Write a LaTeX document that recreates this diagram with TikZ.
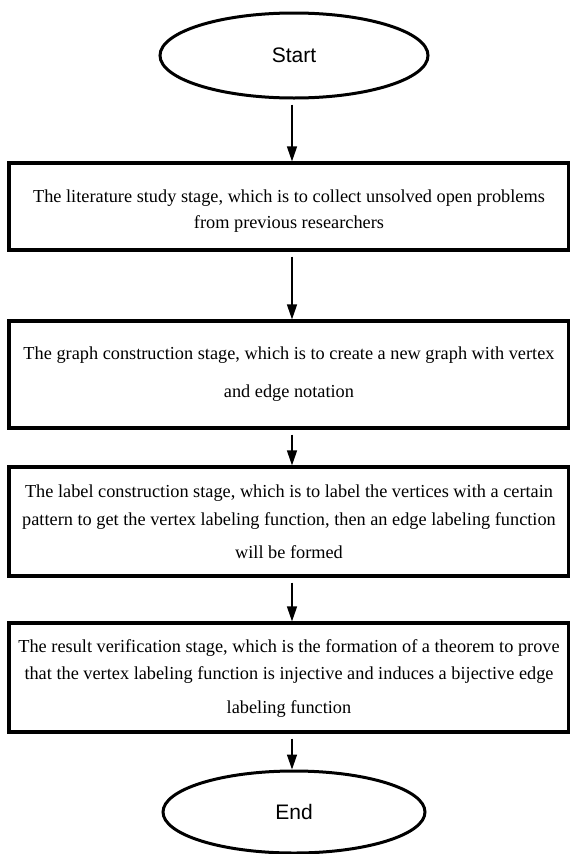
\documentclass[tikz,border=0pt]{standalone}
\usepackage{fontspec}
\setmainfont{Liberation Serif}
\newfontfamily\arialfont{Liberation Sans}
\usetikzlibrary{arrows.meta,shapes.geometric}

\begin{document}
\begin{tikzpicture}[x=1pt,y=-1pt,
  terminal/.style={ellipse, draw, line width=3pt, inner sep=0pt,
    minimum width=268pt, minimum height=85pt,
    font=\arialfont\fontsize{21}{25}\selectfont},
  stagebox/.style={rectangle, draw, line width=3.2pt, inner sep=0pt,
    minimum width=560pt, align=center,
    font=\fontsize{18.3}{27}\selectfont},
  flow/.style={-{Triangle[length=15pt,width=10pt]}, line width=1.4pt,
    shorten <=5pt}]
\useasboundingbox (0,0) rectangle (570,854);

% terminals
\node[terminal] (start) at (294,55.5) {Start};
\node[terminal, minimum width=262pt, minimum height=82pt] (end) at (294,812) {End};

% the four stages
\node[stagebox, minimum height=87pt] (lit) at (289,206.5)
  {\rule{0pt}{21pt}The literature study stage, which is to collect unsolved open problems\\[-1pt]
   from previous researchers};
\node[stagebox, minimum height=107pt] (graph) at (289,374.5)
  {The graph construction stage, which is to create a new graph with vertex\\[11pt]
   and edge notation};
\node[stagebox, minimum height=109pt] (label) at (289,521.5)
  {The label construction stage, which is to label the vertices with a certain\\[1pt]
   pattern to get the vertex labeling function, then an edge labeling function\\[6pt]
   will be formed};
\node[stagebox, minimum height=109pt] (verify) at (289,677.5)
  {\rule{0pt}{15pt}The result verification stage, which is the formation of a theorem to prove\\
   that the vertex labeling function is injective and induces a bijective edge\\[7pt]
   labeling function};

% connectors, all on the vertical through the start terminal
\coordinate (axis) at ([xshift=-2pt]start.south);
\draw[flow] (axis) -- (axis |- lit.north);
\draw[flow] (axis |- lit.south) -- (axis |- graph.north);
\draw[flow] (axis |- graph.south) -- (axis |- label.north);
\draw[flow] (axis |- label.south) -- (axis |- verify.north);
\draw[flow] (axis |- verify.south) -- (axis |- end.north);
\end{tikzpicture}
\end{document}
